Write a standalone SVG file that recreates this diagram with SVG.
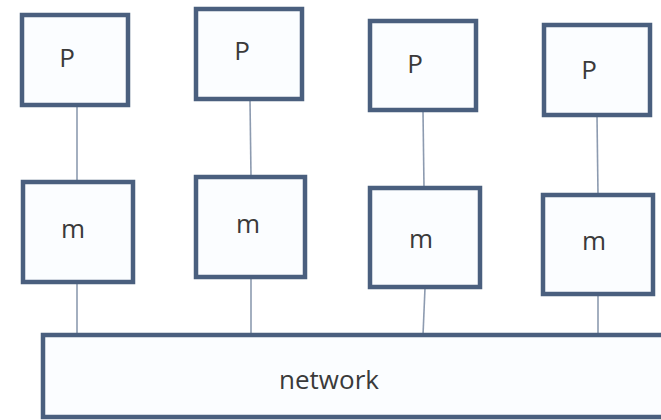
<svg xmlns="http://www.w3.org/2000/svg" width="661" height="420" viewBox="0 0 661 420">
  <style>
    .box { fill: #fbfdff; stroke: #4a5f7e; stroke-width: 4.5; }
    .wire { stroke: #8d9bb0; stroke-width: 1.6; fill: none; }
    .lbl { font-family: "Open Sans", "Liberation Sans", sans-serif; font-size: 26px; fill: #3a3a3a; text-anchor: middle; }
  </style>
  <rect width="661" height="420" fill="#ffffff"/>

  <!-- links: processor to memory, memory to network -->
  <g id="connectors">
    <line class="wire" x1="77" y1="106" x2="77" y2="182"/>
    <line class="wire" x1="250" y1="100" x2="251" y2="177"/>
    <line class="wire" x1="423" y1="111" x2="424" y2="188"/>
    <line class="wire" x1="597" y1="116" x2="598" y2="195"/>
    <line class="wire" x1="77" y1="283" x2="77" y2="335"/>
    <line class="wire" x1="251" y1="278" x2="251" y2="335"/>
    <line class="wire" x1="425" y1="288" x2="423" y2="335"/>
    <line class="wire" x1="598" y1="295" x2="598" y2="335"/>
  </g>

  <!-- processors -->
  <g id="p1"><rect class="box" x="22" y="15" width="106" height="90"/><text class="lbl" x="67" y="67">P</text></g>
  <g id="p2"><rect class="box" x="196" y="9" width="106" height="90"/><text class="lbl" x="242" y="60">P</text></g>
  <g id="p3"><rect class="box" x="370" y="21" width="106" height="89"/><text class="lbl" x="415" y="73">P</text></g>
  <g id="p4"><rect class="box" x="544" y="25" width="106" height="90"/><text class="lbl" x="589" y="79">P</text></g>

  <!-- memories -->
  <g id="m1"><rect class="box" x="23" y="182" width="110" height="100"/><text class="lbl" x="73" y="238">m</text></g>
  <g id="m2"><rect class="box" x="196" y="177" width="109" height="100"/><text class="lbl" x="248" y="233">m</text></g>
  <g id="m3"><rect class="box" x="370" y="188" width="110" height="99"/><text class="lbl" x="421" y="248">m</text></g>
  <g id="m4"><rect class="box" x="543" y="195" width="110" height="99"/><text class="lbl" x="594" y="250">m</text></g>

  <!-- shared interconnect -->
  <g id="network">
    <rect class="box" x="43" y="335" width="640" height="82"/>
    <text class="lbl" x="329" y="389">network</text>
  </g>
</svg>
